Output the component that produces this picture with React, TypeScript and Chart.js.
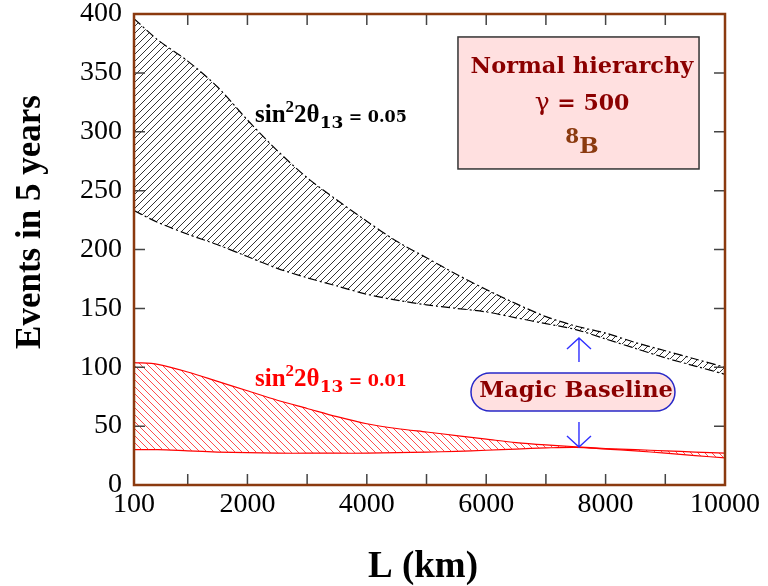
import React, { useEffect, useRef } from "react";
import { Chart, registerables } from "chart.js";

Chart.register(...registerables);

// ---- data ----
const distancesKm = [100, 500, 1000, 1500, 2000, 2500, 3000, 3500, 4000, 4500, 5000, 5500, 6000, 6500, 7000, 7500, 8000, 8500, 9000, 9500, 10000];
const upper005 = [396, 378, 360, 338, 310, 284, 261, 242, 224, 207, 193, 179, 166, 154, 143, 135, 129, 121, 114, 107, 100];
const lower005 = [233, 223, 213, 204, 194, 184, 176, 169, 162, 157, 153, 150, 147, 142, 137, 132, 124, 116, 108, 101, 94];
const upper001 = [104, 102.5, 96, 88, 80, 72, 65, 58, 52, 48, 45, 42, 39, 36, 34, 32.5, 31, 30, 29, 28, 27];
const lower001 = [30, 30, 29, 28, 27.5, 27, 27, 27, 27, 27.5, 28, 28.5, 29.5, 30.5, 31.5, 32, 30.5, 29, 27, 25, 23];

const xTickLabels = [100, 2000, 4000, 6000, 8000, 10000];
const xTickMarks = [1000, 2000, 3000, 4000, 5000, 6000, 7000, 8000, 9000];
const yTickValues = [0, 50, 100, 150, 200, 250, 300, 350, 400];

const xTitle = "L (km)";
const yTitle = "Events in 5 years";
const infoLines = ["Normal hierarchy", "\u03b3 = 500", "8B"];
const magicLabel = "Magic Baseline";
const magicBaselineKm = 7554;

function makeHatch(color: string, dir: number, size: number, lw: number) {
  const c = document.createElement("canvas");
  c.width = size;
  c.height = size;
  const g = c.getContext("2d")!;
  g.strokeStyle = color;
  g.lineWidth = lw;
  g.beginPath();
  if (dir === 1) {
    g.moveTo(0, size); g.lineTo(size, 0);
    g.moveTo(-1, 1); g.lineTo(1, -1);
    g.moveTo(size - 1, size + 1); g.lineTo(size + 1, size - 1);
  } else {
    g.moveTo(0, 0); g.lineTo(size, size);
    g.moveTo(-1, size - 1); g.lineTo(1, size + 1);
    g.moveTo(size - 1, -1); g.lineTo(size + 1, 1);
  }
  g.stroke();
  return g.createPattern(c, "repeat")!;
}

type Seg = { t: string; font: string; color: string; dy?: number };
function drawRich(ctx: CanvasRenderingContext2D, segs: Seg[], x: number, y: number, align: "left" | "center") {
  let total = 0;
  for (const s of segs) { ctx.font = s.font; total += ctx.measureText(s.t).width; }
  let cx = align === "center" ? x - total / 2 : x;
  ctx.textAlign = "left";
  ctx.textBaseline = "alphabetic";
  for (const s of segs) {
    ctx.font = s.font;
    ctx.fillStyle = s.color;
    ctx.fillText(s.t, cx, y + (s.dy || 0));
    cx += ctx.measureText(s.t).width;
  }
}

function roundRect(ctx: CanvasRenderingContext2D, x: number, y: number, w: number, h: number, r: number) {
  ctx.beginPath();
  ctx.moveTo(x + r, y);
  ctx.lineTo(x + w - r, y);
  ctx.arc(x + w - r, y + r, r, -Math.PI / 2, 0);
  ctx.lineTo(x + w, y + h - r);
  ctx.arc(x + w - r, y + h - r, r, 0, Math.PI / 2);
  ctx.lineTo(x + r, y + h);
  ctx.arc(x + r, y + h - r, r, Math.PI / 2, Math.PI);
  ctx.lineTo(x, y + r);
  ctx.arc(x + r, y + r, r, Math.PI, Math.PI * 1.5);
  ctx.closePath();
}

const decorPlugin = {
  id: "decor",
  afterDraw(chart: any) {
    const ctx: CanvasRenderingContext2D = chart.ctx;
    const xs = chart.scales.x;
    const ys = chart.scales.y;
    const a = chart.chartArea;
    const px = (v: number) => xs.getPixelForValue(v);
    const py = (v: number) => ys.getPixelForValue(v);
    ctx.save();

    // tick marks (inward, all four sides)
    ctx.strokeStyle = "#444";
    ctx.lineWidth = 1.5;
    ctx.beginPath();
    for (const v of yTickValues) {
      const y = py(v);
      ctx.moveTo(a.left, y); ctx.lineTo(a.left + 11, y);
      ctx.moveTo(a.right, y); ctx.lineTo(a.right - 11, y);
    }
    for (const v of xTickMarks) {
      const x = px(v);
      ctx.moveTo(x, a.bottom); ctx.lineTo(x, a.bottom - 11);
      ctx.moveTo(x, a.top); ctx.lineTo(x, a.top + 11);
    }
    ctx.stroke();

    // frame
    ctx.strokeStyle = "#8B3A0F";
    ctx.lineWidth = 2.5;
    ctx.strokeRect(a.left, a.top, a.right - a.left, a.bottom - a.top);

    // band labels
    const serifB = (s: number) => `bold ${s}px "Liberation Serif"`;
    const dejaB = (s: number) => `bold ${s}px "DejaVu Serif"`;
    const bandLabel = (val: string, color: string) => [
      { t: "sin", font: serifB(25), color },
      { t: "2", font: serifB(17), color, dy: -10 },
      { t: "2\u03b8", font: serifB(25), color },
      { t: "13", font: dejaB(17), color, dy: 6 },
      { t: " = " + val, font: dejaB(16), color },
    ];
    drawRich(ctx, bandLabel("0.05", "#000"), px(2127), py(308), "left");
    drawRich(ctx, bandLabel("0.01", "#ff0000"), px(2127), py(84), "left");

    // info box
    const bx0 = px(5527), bx1 = px(9565), by0 = py(380.5), by1 = py(268.4);
    ctx.fillStyle = "#FFE0E0";
    ctx.fillRect(bx0, by0, bx1 - bx0, by1 - by0);
    ctx.strokeStyle = "#333";
    ctx.lineWidth = 1.5;
    ctx.strokeRect(bx0, by0, bx1 - bx0, by1 - by0);
    const dark = "#8B0000";
    const brown = "#8B3A0F";
    drawRich(ctx, [{ t: infoLines[0], font: dejaB(22.5), color: dark }], px(7605), py(349.9), "center");
    drawRich(ctx, [
      { t: infoLines[1].slice(0, 1), font: `25px "DejaVu Serif"`, color: dark },
      { t: infoLines[1].slice(1), font: dejaB(22), color: dark },
    ], px(7605), py(318.5), "center");
    drawRich(ctx, [
      { t: infoLines[2].slice(0, 1), font: dejaB(20), color: brown, dy: -10 },
      { t: infoLines[2].slice(1), font: dejaB(23), color: brown },
    ], px(7605), py(281.9), "center");

    // magic baseline pill
    const mx0 = px(5745), mx1 = px(9162), my0 = py(95.1), my1 = py(62.8);
    roundRect(ctx, mx0, my0, mx1 - mx0, my1 - my0, (my1 - my0) / 2);
    ctx.fillStyle = "#FFE0E0";
    ctx.fill();
    ctx.strokeStyle = "#2828C8";
    ctx.lineWidth = 1.5;
    ctx.stroke();
    drawRich(ctx, [{ t: magicLabel, font: dejaB(22.5), color: dark }], px(7504), py(74.7), "center");

    // arrows
    const ax = px(magicBaselineKm);
    ctx.strokeStyle = "#3030FF";
    ctx.lineWidth = 1.4;
    ctx.beginPath();
    const upTip = py(124.8), upBase = py(104.5);
    ctx.moveTo(ax, upBase); ctx.lineTo(ax, upTip);
    ctx.moveTo(ax - 12, upTip + 11); ctx.lineTo(ax, upTip); ctx.lineTo(ax + 12, upTip + 11);
    const dnTop = py(53.5), dnTip = py(32.3);
    ctx.moveTo(ax, dnTop); ctx.lineTo(ax, dnTip);
    ctx.moveTo(ax - 12, dnTip - 11); ctx.lineTo(ax, dnTip); ctx.lineTo(ax + 12, dnTip - 11);
    ctx.stroke();

    // axis titles
    ctx.fillStyle = "#000";
    ctx.textAlign = "center";
    ctx.textBaseline = "alphabetic";
    ctx.font = serifB(37);
    ctx.fillText(xTitle, 423, 577);
    ctx.font = serifB(35);
    ctx.save();
    ctx.translate(40, 222);
    ctx.rotate(-Math.PI / 2);
    ctx.fillText(yTitle, 0, 0);
    ctx.restore();

    ctx.restore();
  },
};

export default function App() {
  const ref = useRef<HTMLCanvasElement | null>(null);
  useEffect(() => {
    if (!ref.current) return;
    const blackHatch = makeHatch("#000", 1, 7, 0.8);
    const redHatch = makeHatch("#ff2020", -1, 7, 0.8);
    const pts = (arr: number[]) => distancesKm.map((x, i) => ({ x, y: arr[i] }));
    const chart = new Chart(ref.current, {
      type: "line",
      data: {
        datasets: [
          { data: pts(upper005), borderColor: "#000", borderWidth: 1.2, borderDash: [9, 3, 2, 3], backgroundColor: blackHatch, fill: "+1", pointRadius: 0, tension: 0.3 },
          { data: pts(lower005), borderColor: "#000", borderWidth: 1.2, borderDash: [9, 3, 2, 3], fill: false, pointRadius: 0, tension: 0.3 },
          { data: pts(upper001), borderColor: "#ff0000", borderWidth: 1.2, backgroundColor: redHatch, fill: "+1", pointRadius: 0, tension: 0.3 },
          { data: pts(lower001), borderColor: "#ff0000", borderWidth: 1.2, fill: false, pointRadius: 0, tension: 0.3 },
        ],
      } as any,
      options: {
        animation: false,
        responsive: false,
        layout: { padding: { top: 14, right: 43, left: 0, bottom: 0 } },
        plugins: { legend: { display: false }, tooltip: { enabled: false }, title: { display: false } },
        scales: {
          x: {
            type: "linear",
            min: 100,
            max: 10000,
            grid: { display: false, drawTicks: false },
            border: { display: false },
            afterBuildTicks: (s: any) => { s.ticks = xTickLabels.map((v) => ({ value: v })); },
            afterFit: (s: any) => { s.height = 101; s.paddingLeft = 0; s.paddingRight = 0; },
            ticks: {
              font: { family: "Liberation Serif", size: 28 },
              color: "#000",
              padding: 3,
              maxRotation: 0,
              autoSkip: false,
              callback: (v: any) => String(v),
            },
          },
          y: {
            type: "linear",
            min: 0,
            max: 400,
            grid: { display: false, drawTicks: false },
            border: { display: false },
            afterBuildTicks: (s: any) => { s.ticks = yTickValues.map((v) => ({ value: v })); },
            afterFit: (s: any) => { s.width = 134; s.paddingTop = 0; s.paddingBottom = 0; },
            ticks: {
              font: { family: "Liberation Serif", size: 28 },
              color: "#000",
              padding: 12,
              autoSkip: false,
              callback: (v: any) => String(v),
            },
          },
        },
      } as any,
      plugins: [decorPlugin],
    });
    return () => chart.destroy();
  }, []);
  return (
    <div style={{ position: "absolute", left: 0, top: 0, width: 768, height: 586, background: "#fff" }}>
      <canvas ref={ref} width={768} height={586} style={{ display: "block" }} />
    </div>
  );
}
